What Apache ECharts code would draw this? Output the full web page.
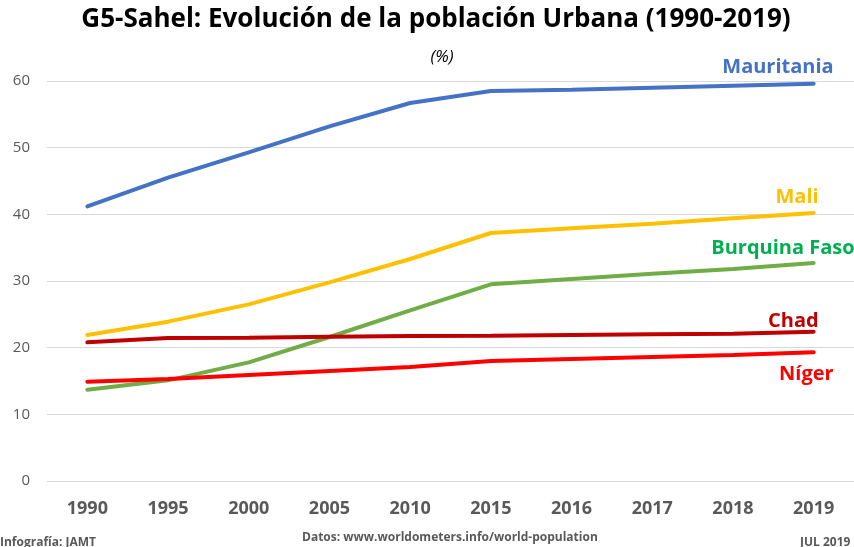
<!DOCTYPE html>
<html>
<head>
<meta charset="utf-8">
<script src="https://cdn.jsdelivr.net/npm/echarts@6/dist/echarts.min.js"></script>
<style>
  html, body { margin: 0; padding: 0; background: #fff; }
  #chart { width: 854px; height: 547px; }
</style>
</head>
<body>
<div id="chart"></div>
<script>
// categories (years)
const years = ['1990', '1995', '2000', '2005', '2010', '2015', '2016', '2017', '2018', '2019']

// urban population, %
const mauritania = [41.2, 45.5, 49.3, 53.2, 56.7, 58.5, 58.7, 59.0, 59.3, 59.6]
const mali = [21.9, 23.9, 26.5, 29.8, 33.3, 37.2, 37.9, 38.6, 39.4, 40.2]
const burkina = [13.7, 15.1, 17.8, 21.6, 25.6, 29.5, 30.3, 31.1, 31.8, 32.7]
const chad = [20.8, 21.45, 21.5, 21.65, 21.75, 21.8, 21.9, 22.0, 22.1, 22.4]
const niger = [14.9, 15.3, 15.9, 16.5, 17.1, 18.0, 18.3, 18.6, 18.9, 19.3]

const FONT = '"Open Sans", "Liberation Sans", sans-serif'

const chart = echarts.init(document.getElementById('chart'))

function makeSeries(name, data, color, labelColor, offset) {
  return {
    name: name,
    type: 'line',
    data: data,
    symbol: 'none',
    lineStyle: { width: 4, color: color, cap: 'round' },
    itemStyle: { color: color },
    endLabel: {
      show: true,
      formatter: '{a}',
      color: labelColor,
      fontFamily: FONT,
      fontWeight: 'bold',
      fontSize: 20,
      align: 'right',
      verticalAlign: 'middle',
      distance: 0,
      offset: offset
    },
    emphasis: { disabled: true },
    animation: false
  }
}

const option = {
  animation: false,
  title: [{
    text: 'G5-Sahel: Evolución de la población Urbana (1990-2019)',
    left: 431,
    top: 2,
    textAlign: 'center',
    textStyle: { fontFamily: FONT, fontWeight: 'bold', fontSize: 26, color: '#000' }
  }, {
    text: '(%)',
    left: 437,
    top: 44,
    textAlign: 'center',
    textStyle: { fontFamily: FONT, fontStyle: 'italic', fontWeight: 'normal', fontSize: 17, color: '#000' }
  }],
  grid: {
    left: 47,
    right: -9,
    top: 81,
    bottom: 66,
    containLabel: false
  },
  xAxis: {
    type: 'category',
    data: years,
    boundaryGap: true,
    axisLine: { show: false },
    axisTick: { show: false },
    axisLabel: {
      color: '#595959',
      fontFamily: FONT,
      fontWeight: 'bold',
      fontSize: 18,
      margin: 19
    }
  },
  yAxis: {
    type: 'value',
    min: 0,
    max: 60,
    interval: 10,
    axisLine: { show: false },
    axisTick: { show: false },
    splitLine: { lineStyle: { color: '#d9d9d9', width: 1 } },
    axisLabel: {
      color: '#595959',
      fontFamily: FONT,
      fontSize: 15,
      margin: 17
    }
  },
  graphic: [{
    type: 'text',
    left: 0,
    top: 537,
    style: { text: 'Infografía: JAMT', fontFamily: FONT, fontSize: 12, fontWeight: 'bold', fill: '#595959' }
  }, {
    type: 'text',
    left: 302,
    top: 532,
    style: { text: 'Datos: www.worldometers.info/world-population', fontFamily: FONT, fontSize: 12, fontWeight: 'bold', fill: '#595959' }
  }, {
    type: 'text',
    left: 800,
    top: 537,
    style: { text: 'JUL 2019', fontFamily: FONT, fontSize: 12, fontWeight: 'bold', fill: '#595959' }
  }],
  series: [
    makeSeries('Mauritania', mauritania, '#4472C4', '#4472C4', [20, -16]),
    makeSeries('Mali', mali, '#FFC000', '#FFC000', [5, -16]),
    makeSeries('Burquina Faso', burkina, '#70AD47', '#00B050', [41, -15]),
    makeSeries('Chad', chad, '#C00000', '#C00000', [5, -10]),
    makeSeries('Níger', niger, '#FF0000', '#FF0000', [20, 22])
  ]
}

chart.setOption(option)
</script>
</body>
</html>
